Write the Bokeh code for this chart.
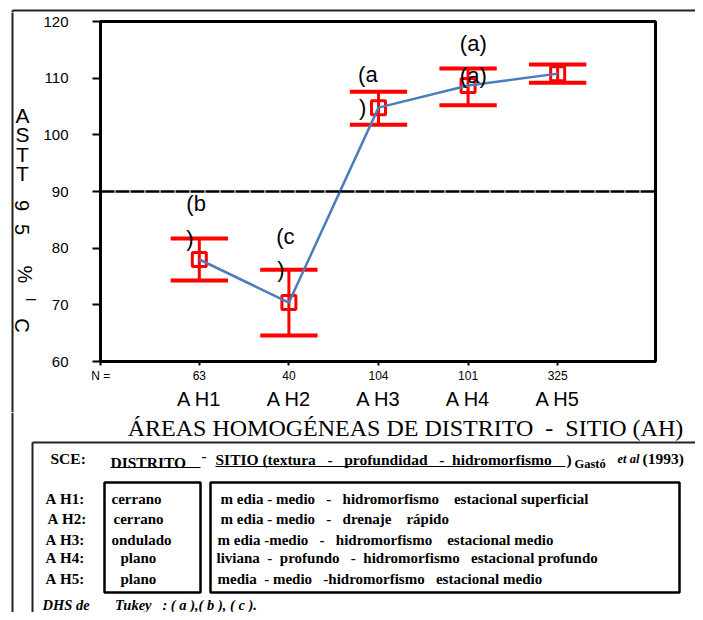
import numpy as np
from bokeh.plotting import figure
from bokeh.models import Range1d, FixedTicker, LinearAxis, Span
from bokeh.layouts import column, row
from bokeh.core.properties import value
from bokeh.embed import file_html
from bokeh.resources import INLINE

# ---------------- data ----------------
areas = ["A H1", "A H2", "A H3", "A H4", "A H5"]
n_obs = [63, 40, 104, 101, 325]
means = [78.0, 70.4, 104.8, 108.7, 110.8]
upper = [81.7, 76.2, 107.6, 111.7, 112.4]
lower = [74.3, 64.6, 101.8, 105.2, 109.2]
threshold = 90
y_ticks = [60, 70, 80, 90, 100, 110, 120]
tukey_text = ["(b", ")", "(c", ")", "(a", ")", "(a)", "(a)"]
tukey_group = [0, 0, 1, 1, 2, 2, 3, 3]        # which area each piece belongs to

district = ["cerrano", "cerrano", "ondulado", "plano", "plano"]
site = ["m edia - medio   -   hidromorfismo    estacional superficial",
        "m edia - medio   -   drenaje    rápido",
        "m edia -medio   -   hidromorfismo    estacional medio",
        "liviana  -  profundo   -  hidromorfismo   estacional profundo",
        "media  - medio   -hidromorfismo   estacional medio"]
row_names = [a + ":" for a in areas]
axis_title = "ÁREAS HOMOGÉNEAS DE DISTRITO  -  SITIO (AH)"
y_title_up = ["A", "S", "T", "T"]
y_title_rot = ["9", "5", "%", "I", "C"]

SANS = "Liberation Sans"
SERIF = "Liberation Serif"
NB = "\u00a0"


def keep(s):
    """keep runs of spaces visible in SVG text"""
    return s.replace(" ", NB)


pos = np.arange(1, len(areas) + 1)


def canvas(w, h, x0, x1, y0, y1):
    c = figure(width=w, height=h, x_range=Range1d(x0, x1), y_range=Range1d(y0, y1),
               output_backend="svg", toolbar_location=None, min_border=0,
               x_axis_location=None, y_axis_location=None)
    c.grid.visible = False
    c.outline_line_color = None
    c.background_fill_color = "white"
    c.border_fill_color = "white"
    try:
        c.frame_align = False
    except AttributeError:
        pass
    return c


# ---------------- top strip (outer frame top line) ----------------
top = canvas(695, 12, 0, 695, 12, 0)
top.segment(x0=[12, 12], y0=[10, 10], x1=[695, 12], y1=[10, 12], line_color="#222222", line_width=2)

# ---------------- left strip (outer frame + stacked y title) ----------------
LW = 40
left = canvas(LW, 400, 0, LW, 412, 12)
left.segment(x0=[12], y0=[10], x1=[12], y1=[412], line_color="#222222", line_width=2)
left.text(x=[22, 22, 22, 22], y=[115, 134, 154, 173], text=y_title_up,
          text_font=value(SANS), text_font_size="21px", text_align="center",
          text_baseline="middle", text_color="black")
left.text(x=[21, 21, 24, 31, 21], y=[205, 229, 274, 299, 325], text=y_title_rot,
          angle=-np.pi / 2, text_font=value(SANS),
          text_font_size=["20px", "20px", "20px", "15px", "20px"], text_align="center",
          text_baseline="middle", text_color="black")

# ---------------- chart ----------------
chart = figure(width=695 - LW, height=400, x_range=Range1d(-0.103, 6.092), y_range=Range1d(60, 120),
               output_backend="svg", toolbar_location=None,
               min_border_left=99 - LW, min_border_right=40, min_border_top=9,
               min_border_bottom=51)
try:
    chart.frame_align = False
except AttributeError:
    pass
chart.grid.visible = False
chart.outline_line_color = "black"
chart.outline_line_width = 3
chart.background_fill_color = "white"
chart.border_fill_color = "white"

xa = chart.xaxis[0]
xa.ticker = FixedTicker(ticks=[-0.1] + list(pos))
xa.major_label_overrides = {-0.1: "N =", **{int(p): str(n) for p, n in zip(pos, n_obs)}}
xa.axis_line_width = 3
xa.axis_line_color = "black"
xa.major_tick_out = 4
xa.major_tick_in = 0
xa.minor_tick_out = 0
xa.minor_tick_in = 0
xa.major_tick_line_width = 2
xa.major_tick_line_color = "black"
xa.minor_tick_line_color = None
xa.major_label_standoff = 3
xa.major_label_text_font = SANS
xa.major_label_text_font_size = "12px"
xa.major_label_text_color = "black"

xa2 = LinearAxis(ticker=FixedTicker(ticks=list(pos)),
                 major_label_overrides={int(p): a for p, a in zip(pos, areas)})
xa2.axis_line_color = None
xa2.major_tick_line_color = None
xa2.minor_tick_line_color = None
xa2.major_tick_out = 0
xa2.major_tick_in = 0
xa2.minor_tick_out = 0
xa2.minor_tick_in = 0
xa2.major_label_standoff = 2
xa2.major_label_text_font = SANS
xa2.major_label_text_font_size = "20px"
xa2.major_label_text_color = "black"
chart.add_layout(xa2, "below")

ya = chart.yaxis[0]
ya.ticker = FixedTicker(ticks=y_ticks)
ya.axis_line_width = 3
ya.axis_line_color = "black"
ya.major_tick_out = 8
ya.major_tick_in = 0
ya.minor_tick_out = 0
ya.minor_tick_in = 0
ya.major_tick_line_width = 2
ya.major_tick_line_color = "black"
ya.minor_tick_line_color = None
ya.major_label_standoff = 24
ya.major_label_text_font = SANS
ya.major_label_text_font_size = "15px"
ya.major_label_text_color = "black"

chart.add_layout(Span(location=threshold, dimension="width", line_color="black",
                      line_width=2.5, line_dash="14 1"))

cap = 0.32
up = np.array(upper)
lo = np.array(lower)
chart.segment(x0=pos, y0=lo, x1=pos, y1=up, line_color="red", line_width=3)
chart.segment(x0=pos - cap, y0=up, x1=pos + cap, y1=up, line_color="red", line_width=4)
chart.segment(x0=pos - cap, y0=lo, x1=pos + cap, y1=lo, line_color="red", line_width=4)
chart.scatter(pos, means, marker="square", size=14, fill_color=None,
              line_color="red", line_width=3)
chart.line(pos, means, line_color="#4A7EBB", line_width=2.5)

# Tukey group letters (placement offsets are layout only)
lab_dx = [-0.145, -0.145, -0.142, -0.131, -0.228, -0.217, -0.092, -0.092]
lab_y = [87.9, 81.7, 82.1, 76.2, 110.6, 104.8, 116.1, 110.5]
lab_x = [pos[g] + d for g, d in zip(tukey_group, lab_dx)]
chart.text(x=lab_x, y=lab_y, text=tukey_text, text_font=value(SANS), text_font_size="22px",
           text_align="left", text_baseline="middle", text_color="black")

# ---------------- table / caption area ----------------
tab = canvas(695, 200, 0, 695, 612, 412)
tab.segment(x0=[12, 32, 32], y0=[412, 442, 442], x1=[12, 695, 32], y1=[612, 442, 612],
            line_color="#222222", line_width=2)
tab.text(x=[405], y=[427], text=[keep(axis_title)],
         text_font=value(SERIF), text_font_size="24px", text_align="center",
         text_baseline="middle", text_color="black")
tab.quad(left=[104, 210], right=[200, 679], top=[482, 482], bottom=[592, 592],
         fill_color=None, line_color="black", line_width=2.5)

# header line
tab.text(x=[50, 110, 201, 215, 566], y=[458, 462, 455, 459, 459],
         text=["SCE:", "DISTRITO", "-",
               keep("SITIO (textura   -   profundidad   -  hidromorfismo"), ")"],
         text_font=value(SERIF), text_font_style="bold", text_font_size="15.5px",
         text_align="left", text_baseline="middle", text_color="black")
tab.segment(x0=[110, 215], y0=[467, 466], x1=[200, 565], y1=[467, 466],
            line_color="black", line_width=1.2)
tab.text(x=[574], y=[463], text=["Gastó"], text_font=value(SERIF), text_font_style="bold",
         text_font_size="12.5px", text_align="left", text_baseline="middle", text_color="black")
tab.text(x=[617], y=[458], text=["et al"], text_font=value(SERIF), text_font_style="bold italic",
         text_font_size="12.5px", text_align="left", text_baseline="middle", text_color="black")
tab.text(x=[642], y=[458], text=["(1993)"], text_font=value(SERIF), text_font_style="bold",
         text_font_size="15.5px", text_align="left", text_baseline="middle", text_color="black")

row_y = [498, 518, 539, 557, 578]
name_x = [45, 47, 45, 45, 45]
dist_x = [111, 113, 111, 120, 120]
site_x = [220, 220, 217, 216, 217]
tab.text(x=name_x, y=row_y, text=[keep(s) for s in row_names], text_font=value(SERIF),
         text_font_style="bold", text_font_size="15px", text_align="left",
         text_baseline="middle", text_color="black")
tab.text(x=dist_x, y=row_y, text=district, text_font=value(SERIF), text_font_style="bold",
         text_font_size="15px", text_align="left", text_baseline="middle", text_color="black")
tab.text(x=site_x, y=row_y, text=[keep(s) for s in site], text_font=value(SERIF),
         text_font_style="bold", text_font_size="15px", text_align="left",
         text_baseline="middle", text_color="black")
tab.text(x=[42], y=[604], text=[keep("DHS de       Tukey   : ( a ),( b ), ( c ).")],
         text_font=value(SERIF), text_font_style="bold italic", text_font_size="14.5px",
         text_align="left", text_baseline="middle", text_color="black")

layout = column(top, row(left, chart), tab)
open("out.html", "w").write(file_html(layout, INLINE))
